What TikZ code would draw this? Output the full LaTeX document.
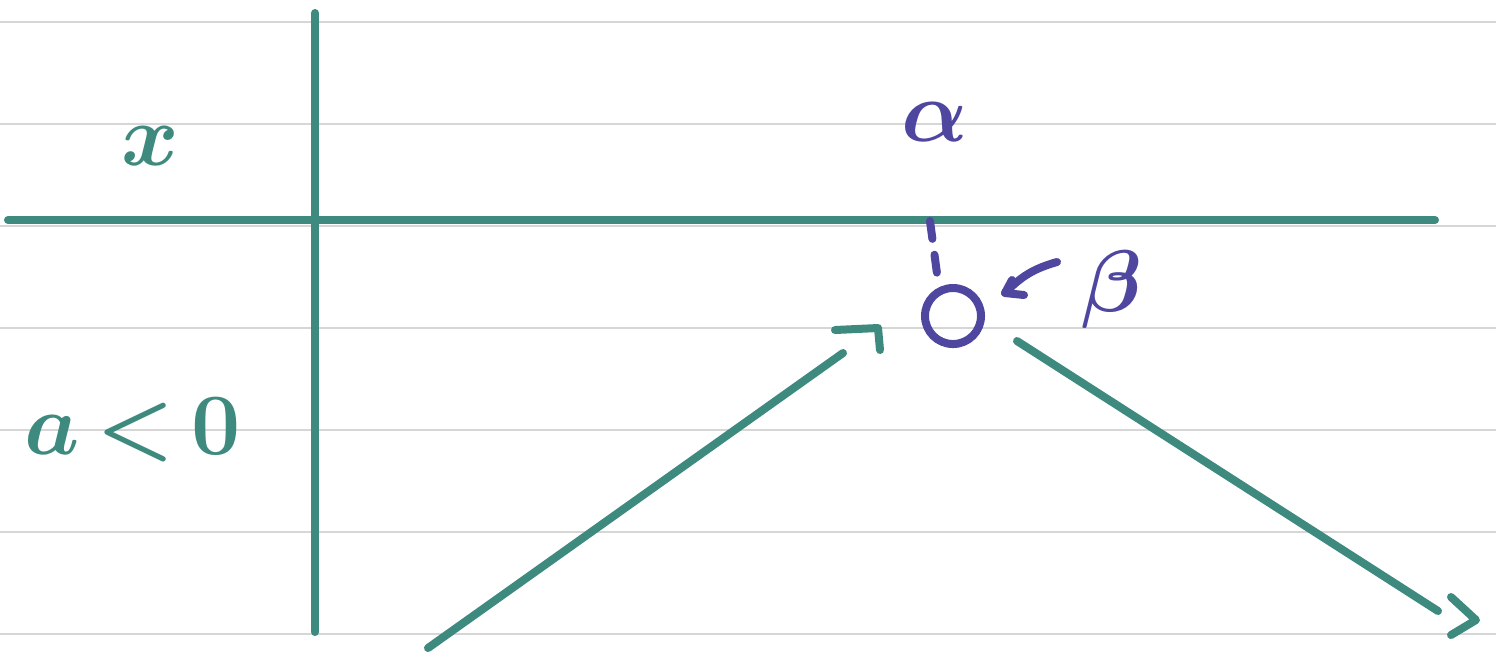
\documentclass[tikz,border=0pt]{standalone}
\usepackage{amsmath}
\definecolor{penteal}{HTML}{3E8A7E}
\definecolor{penpurple}{HTML}{4F46A0}
\definecolor{rule}{HTML}{D6D6D6}
\tikzset{
  ink/.style={line width=0.08cm,line cap=round,line join=round},
  label/.style={font=\fontsize{28}{34}\selectfont\boldmath,inner sep=0pt}
}
\begin{document}
\begin{tikzpicture}[x=0.01cm,y=-0.01cm]
  \useasboundingbox (0,0) rectangle (1496,653);
  \fill[white] (0,0) rectangle (1496,653);

  % ruled paper
  \foreach \y in {22,124,226,328,430,532,634}
    \draw[rule,line width=0.02cm] (0,\y) -- (1496,\y);

  % table frame
  \draw[ink,penteal] (8,220) -- (1435,220);
  \draw[ink,penteal] (315,13) -- (315,632);

  % headers
  \node[label,text=penteal] (xlab) at (150,146) {$x$};
  \node[label,text=penpurple] (alab) at (935,122) {$\alpha$};
  \node[label,text=penteal] (cond) at (133,430) {$a\,{<}\,0$};

  % forbidden value
  \node[ink,draw=penpurple,circle,minimum size=0.56cm,inner sep=0pt] (crit) at (953,316) {};
  \coordinate (top) at (930,221);
  \coordinate (dashend) at (938,281);
  \draw[ink,penpurple,dash pattern=on 0.18cm off 0.16cm] (top) -- (dashend);

  \node[label,text=penpurple] (blab) at (1112,290) {$\beta$};
  \coordinate (btail) at (1057,262);
  \coordinate (bhead) at (1005,293);
  \draw[ink,penpurple] (btail) to[bend right=15] (bhead);
  \draw[ink,penpurple] (1012,280) -- (bhead) -- (1024,295);

  % variations
  \coordinate (lo1) at (428,648);
  \coordinate (up) at (843,353);
  \draw[ink,penteal] (lo1) -- (up);
  \draw[ink,penteal] (835,330) -- (878,328) -- (880,350);

  \coordinate (dn) at (1017,341);
  \coordinate (lo2) at (1438,611);
  \draw[ink,penteal] (dn) -- (lo2);
  \draw[ink,penteal] (1451,597) -- (1476,620) -- (1451,635);
\end{tikzpicture}
\end{document}
